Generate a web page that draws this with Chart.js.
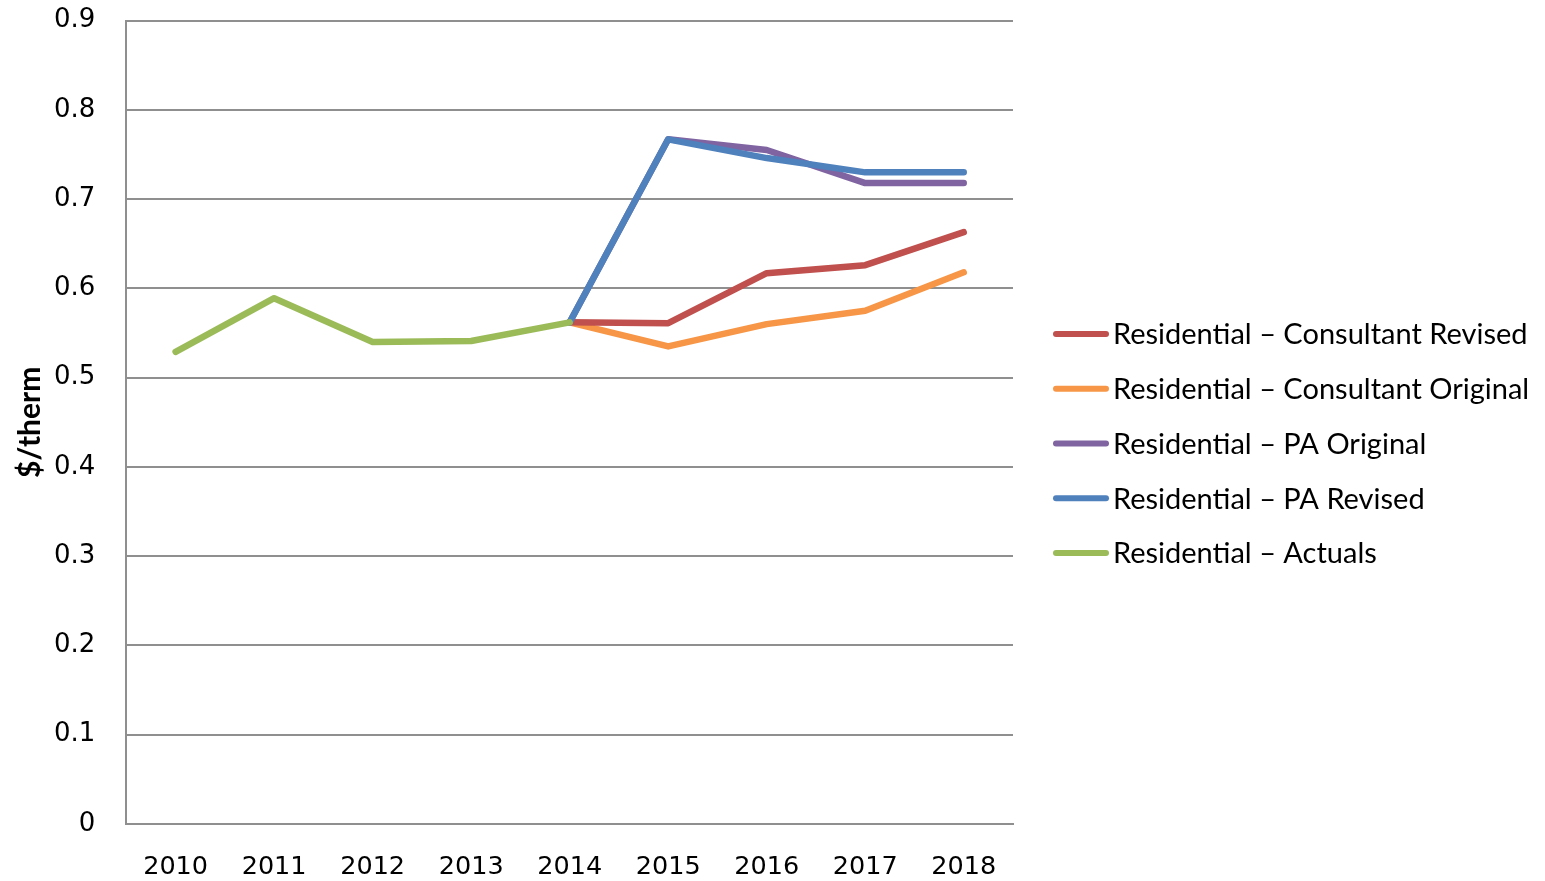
<!DOCTYPE html>
<html>
<head>
<meta charset="utf-8">
<script src="https://cdn.jsdelivr.net/npm/chart.js@4.4.1/dist/chart.umd.min.js"></script>
<style>
  html, body { margin: 0; padding: 0; background: #fff; }
  #wrap { width: 1545px; height: 881px; }
</style>
</head>
<body>
<div id="wrap"><canvas id="chart"></canvas></div>
<script>
const years = ['2010', '2011', '2012', '2013', '2014', '2015', '2016', '2017', '2018'];

const consultantRevised = [null, null, null, null, 0.562, 0.561, 0.617, 0.626, 0.663];
const consultantOriginal = [null, null, null, null, 0.562, 0.535, 0.560, 0.575, 0.618];
const paOriginal = [null, null, null, null, 0.562, 0.767, 0.755, 0.718, 0.718];
const paRevised = [null, null, null, null, 0.562, 0.767, 0.746, 0.730, 0.730];
const actuals = [0.529, 0.589, 0.540, 0.541, 0.562, null, null, null, null];

const yTicks = [0, 0.1, 0.2, 0.3, 0.4, 0.5, 0.6, 0.7, 0.8, 0.9];

function series(label, data, color, order) {
    return {
        label: label,
        data: data,
        borderColor: color,
        backgroundColor: color,
        borderWidth: 6.5,
        borderCapStyle: 'round',
        borderJoinStyle: 'round',
        pointRadius: 0,
        pointHoverRadius: 0,
        tension: 0,
        fill: false,
        order: order
    };
}

const gridGray = '#8f8f8f';

// legend drawn in the right margin, one line swatch + label per dataset
const sideLegend = {
    id: 'sideLegend',
    afterDraw(chart) {
        const ctx = chart.ctx;
        const sets = chart.data.datasets;
        const step = 54.75;
        let y = chart.height / 2 + 3 - step * (sets.length - 1) / 2;
        ctx.save();
        ctx.font = '29px Lato';
        ctx.textBaseline = 'middle';
        ctx.textAlign = 'left';
        sets.forEach(ds => {
            ctx.strokeStyle = ds.borderColor;
            ctx.lineWidth = 6;
            ctx.lineCap = 'round';
            ctx.beginPath();
            ctx.moveTo(1056, y);
            ctx.lineTo(1106, y);
            ctx.stroke();
            ctx.fillStyle = '#000';
            ctx.fillText(ds.label, 1113, y + 1);
            y += step;
        });
        ctx.restore();
    }
};

new Chart(document.getElementById('chart').getContext('2d'), {
    type: 'line',
    data: {
        labels: years,
        datasets: [
            series('Residential \u2013 Consultant Revised', consultantRevised, '#C0504D', 3),
            series('Residential \u2013 Consultant Original', consultantOriginal, '#F79646', 4),
            series('Residential \u2013 PA Original', paOriginal, '#8064A2', 2),
            series('Residential \u2013 PA Revised', paRevised, '#4F81BD', 1),
            series('Residential \u2013 Actuals', actuals, '#9BBB59', 0)
        ]
    },
    options: {
        responsive: true,
        maintainAspectRatio: false,
        animation: false,
        layout: { padding: { top: 20, left: 12, right: 532, bottom: 1 } },
        plugins: {
            tooltip: { enabled: false },
            legend: { display: false }
        },
        scales: {
            x: {
                offset: true,
                grid: { display: false, drawTicks: false },
                border: { display: true, color: gridGray, width: 2 },
                afterFit: axis => { axis.height = 56; },
                ticks: {
                    color: '#000',
                    padding: 28,
                    maxRotation: 0,
                    font: { family: 'DejaVu Sans', size: 25.5 }
                }
            },
            y: {
                min: 0,
                max: 0.9,
                afterBuildTicks: axis => { axis.ticks = yTicks.map(v => ({ value: v })); },
                grid: { color: gridGray, lineWidth: 2, drawTicks: true, tickLength: 26, tickColor: 'rgba(0,0,0,0)' },
                border: { display: true, color: gridGray, width: 2 },
                title: {
                    display: true,
                    text: '$/therm',
                    color: '#000',
                    font: { family: 'Lato', size: 30, weight: 'bold' },
                    padding: { top: 0, bottom: 1 }
                },
                ticks: {
                    color: '#000',
                    padding: 5,
                    font: { family: 'DejaVu Sans', size: 26 },
                    callback: v => String(Math.round(v * 10) / 10)
                }
            }
        }
    },
    plugins: [sideLegend]
});
</script>
</body>
</html>
